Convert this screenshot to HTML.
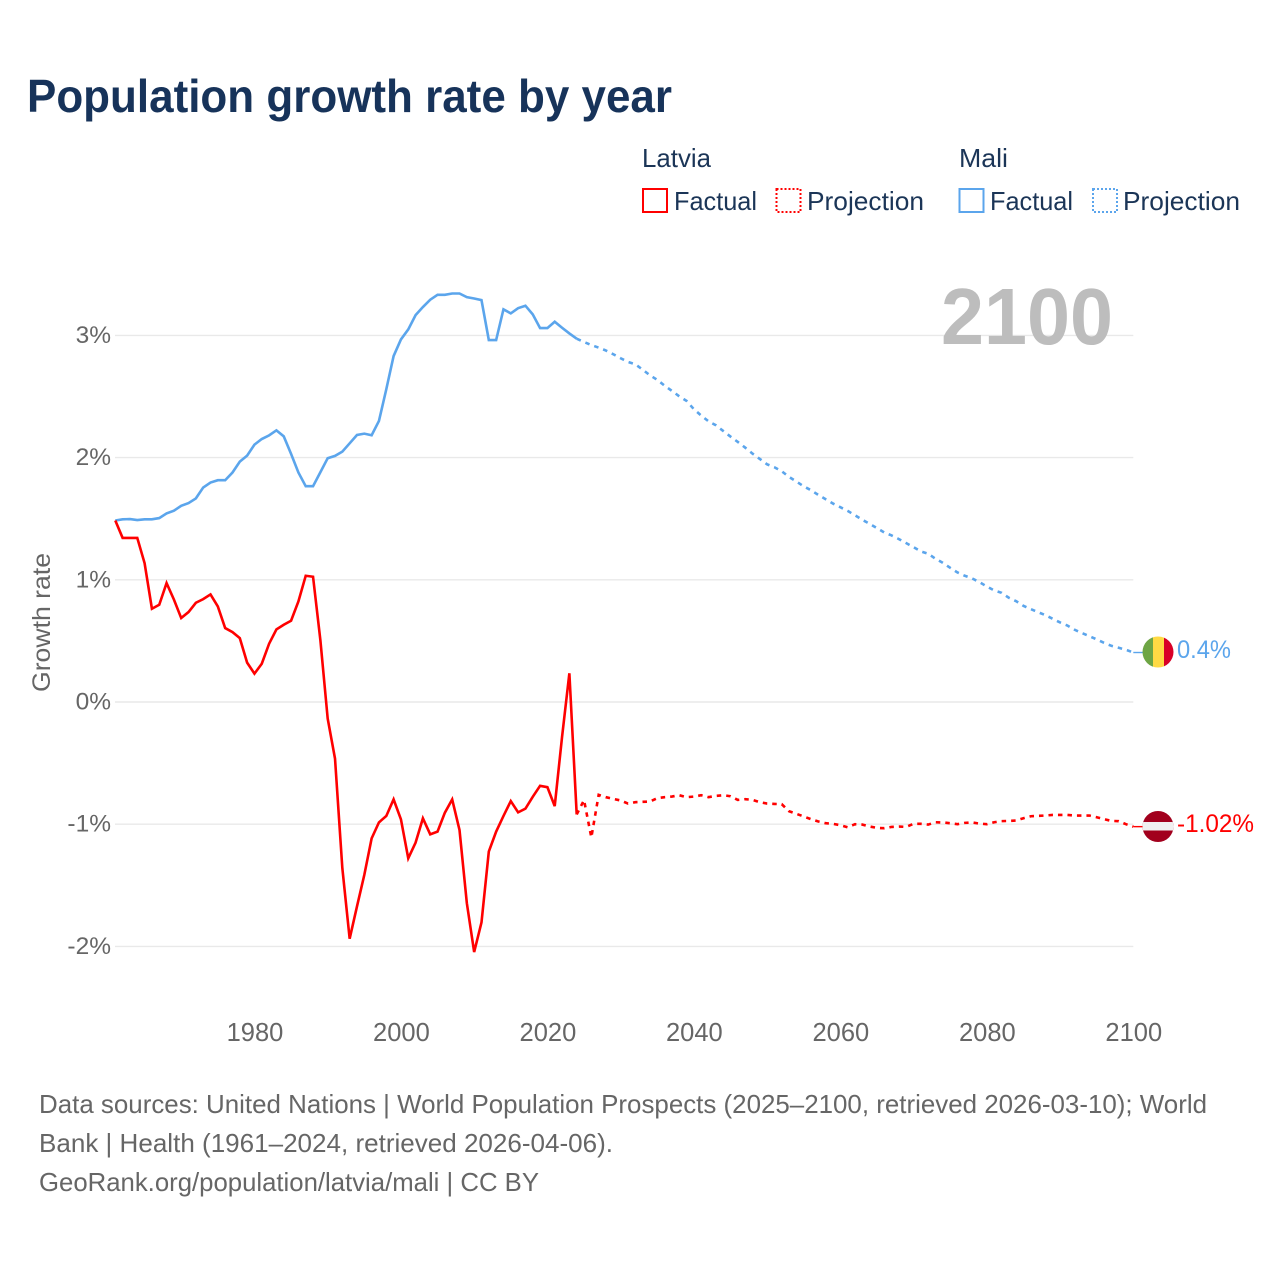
<!DOCTYPE html>
<html lang="en">
<head>
<meta charset="utf-8">
<title>Population growth rate by year</title>
<style>
html,body{margin:0;padding:0;background:#fff;width:1280px;height:1280px;overflow:hidden}
svg{display:block}
text{font-family:"Liberation Sans",Arial,sans-serif}
</style>
</head>
<body>
<svg id="chart" xmlns="http://www.w3.org/2000/svg" width="1280" height="1280" viewBox="0 0 1280 1280">
  <rect width="1280" height="1280" fill="#ffffff"/>
  <text x="27" y="112" font-size="46" font-weight="700" fill="#17335a" textLength="645" lengthAdjust="spacingAndGlyphs">Population growth rate by year</text>

  <g font-size="26" fill="#1b3557">
    <text x="642" y="167" textLength="69" lengthAdjust="spacingAndGlyphs">Latvia</text>
    <text x="959" y="167" textLength="49" lengthAdjust="spacingAndGlyphs">Mali</text>
    <rect x="643" y="189" width="24" height="23" fill="none" stroke="#ff0000" stroke-width="2"/>
    <text x="674" y="210" textLength="83" lengthAdjust="spacingAndGlyphs">Factual</text>
    <rect x="776.5" y="189" width="24" height="23" fill="none" stroke="#ff0000" stroke-width="2" stroke-dasharray="2 2"/>
    <text x="807" y="210" textLength="117" lengthAdjust="spacingAndGlyphs">Projection</text>
    <rect x="959.5" y="189" width="24" height="23" fill="none" stroke="#5ba5ec" stroke-width="2"/>
    <text x="990" y="210" textLength="83" lengthAdjust="spacingAndGlyphs">Factual</text>
    <rect x="1093" y="189" width="24" height="23" fill="none" stroke="#5ba5ec" stroke-width="2" stroke-dasharray="2 2"/>
    <text x="1123" y="210" textLength="117" lengthAdjust="spacingAndGlyphs">Projection</text>
  </g>

  <g id="grid"></g>
  <g id="yticks"></g>
  <g id="xticks"></g>
  <text transform="translate(50,692) rotate(-90)" font-size="25" fill="#666666" textLength="139" lengthAdjust="spacingAndGlyphs">Growth rate</text>
  <text id="year-label" x="941" y="344" font-size="80" font-weight="700" fill="#bdbdbd" textLength="172" lengthAdjust="spacingAndGlyphs">2100</text>

  <g id="series"></g>

  <defs>
    <clipPath id="clip-mali"><circle cx="1158" cy="652" r="15.5"/></clipPath>
    <clipPath id="clip-latvia"><circle cx="1158" cy="826.5" r="15.5"/></clipPath>
  </defs>
  <g clip-path="url(#clip-mali)">
    <rect x="1142" y="636" width="11" height="32" fill="#6da544"/>
    <rect x="1153" y="636" width="11" height="32" fill="#ffda44"/>
    <rect x="1164" y="636" width="10" height="32" fill="#d80027"/>
  </g>
  <g clip-path="url(#clip-latvia)">
    <rect x="1142" y="810" width="32" height="33" fill="#a2001d"/>
    <rect x="1142" y="822" width="32" height="8.5" fill="#f0f0f0"/>
  </g>
  <text id="end-label-mali" x="1177" y="658" font-size="25" fill="#5ba5ec" textLength="54" lengthAdjust="spacingAndGlyphs"></text>
  <text id="end-label-latvia" x="1177" y="832" font-size="25" fill="#ff0000" textLength="77" lengthAdjust="spacingAndGlyphs"></text>

  <g font-size="26" fill="#666666">
    <text x="39" y="1113" textLength="1168" lengthAdjust="spacingAndGlyphs">Data sources: United Nations | World Population Prospects (2025–2100, retrieved 2026-03-10); World</text>
    <text x="39" y="1152" textLength="574" lengthAdjust="spacingAndGlyphs">Bank | Health (1961–2024, retrieved 2026-04-06).</text>
    <text x="39" y="1191" textLength="500" lengthAdjust="spacingAndGlyphs">GeoRank.org/population/latvia/mali | CC BY</text>
  </g>
</svg>
<script>
const factualStartYear = 1961;
const projectionStartYear = 2024;
const lastYear = 2100;
const xTickYears = [1980, 2000, 2020, 2040, 2060, 2080, 2100];
const yTickValues = [3, 2, 1, 0, -1, -2];
const latviaFactual = [1.485,1.343,1.343,1.343,1.136,0.763,0.796,0.973,0.839,0.687,0.736,0.812,0.842,0.88,0.782,0.605,0.572,0.523,0.322,0.232,0.313,0.477,0.594,0.632,0.665,0.823,1.033,1.025,0.507,-0.136,-0.463,-1.36,-1.937,-1.673,-1.415,-1.116,-0.985,-0.933,-0.797,-0.96,-1.279,-1.151,-0.952,-1.083,-1.061,-0.906,-0.797,-1.048,-1.646,-2.046,-1.804,-1.224,-1.061,-0.933,-0.811,-0.903,-0.873,-0.776,-0.686,-0.697,-0.852,-0.286,0.235,-0.92];
const latviaProjection = [-0.92,-0.803,-1.108,-0.76,-0.779,-0.793,-0.806,-0.831,-0.82,-0.817,-0.815,-0.787,-0.779,-0.774,-0.763,-0.779,-0.774,-0.763,-0.779,-0.768,-0.763,-0.771,-0.801,-0.795,-0.801,-0.82,-0.831,-0.834,-0.836,-0.894,-0.915,-0.937,-0.959,-0.978,-0.992,-0.997,-1.008,-1.025,-1.0,-1.003,-1.019,-1.03,-1.033,-1.022,-1.019,-1.022,-0.997,-0.997,-1.003,-0.984,-0.986,-0.992,-1,-0.989,-0.986,-0.995,-1,-0.984,-0.975,-0.973,-0.97,-0.951,-0.935,-0.932,-0.929,-0.924,-0.924,-0.924,-0.929,-0.929,-0.929,-0.943,-0.959,-0.973,-0.975,-1,-1.02];
const maliFactual = [1.485,1.495,1.497,1.489,1.495,1.495,1.505,1.543,1.565,1.606,1.628,1.666,1.755,1.796,1.815,1.815,1.878,1.967,2.016,2.106,2.152,2.182,2.223,2.174,2.03,1.878,1.766,1.766,1.88,1.995,2.014,2.049,2.117,2.185,2.196,2.183,2.3,2.559,2.831,2.967,3.049,3.166,3.232,3.292,3.332,3.332,3.343,3.343,3.313,3.302,3.289,2.962,2.962,3.213,3.18,3.223,3.243,3.172,3.06,3.06,3.112,3.063,3.016,2.973];
const maliProjection = [2.973,2.946,2.921,2.9,2.876,2.846,2.813,2.783,2.764,2.72,2.674,2.636,2.589,2.546,2.502,2.464,2.396,2.344,2.297,2.265,2.218,2.172,2.128,2.082,2.033,1.989,1.945,1.921,1.888,1.842,1.804,1.765,1.733,1.694,1.659,1.624,1.594,1.564,1.528,1.491,1.458,1.423,1.387,1.363,1.333,1.3,1.267,1.232,1.213,1.172,1.139,1.098,1.06,1.033,1.011,0.981,0.945,0.913,0.894,0.853,0.825,0.787,0.76,0.735,0.711,0.681,0.651,0.626,0.591,0.564,0.539,0.512,0.484,0.46,0.444,0.427,0.405];
const endLabelMali = "0.4%";
const endLabelLatvia = "-1.02%";

const NS = "http://www.w3.org/2000/svg";
const RED = "#ff0000";
const BLUE = "#5ba5ec";
function xAxis(year) { return 115.3 + (year - factualStartYear) * (1133.3 - 115.3) / (lastYear - factualStartYear); }
function yAxis(value) { return 702 - value * 122.2; }
function pathFrom(values, startYear) {
  return values.map(function (v, i) {
    return (i ? "L" : "M") + xAxis(startYear + i).toFixed(2) + " " + yAxis(v).toFixed(2);
  }).join("");
}
function make(tag, attrs, parent) {
  const el = document.createElementNS(NS, tag);
  Object.keys(attrs).forEach(function (k) { el.setAttribute(k, attrs[k]); });
  parent.appendChild(el);
  return el;
}

const grid = document.getElementById("grid");
const yticks = document.getElementById("yticks");
const xticks = document.getElementById("xticks");
const series = document.getElementById("series");

yTickValues.forEach(function (v) {
  const line = make("line", { x1: xAxis(factualStartYear) - 0.3, x2: xAxis(lastYear), y1: yAxis(v), y2: yAxis(v), stroke: "#e9e9e9", "stroke-width": 1.4 }, grid);
  
  
  const label = make("text", { x: 111, y: yAxis(v) + 7.5, "text-anchor": "end", "font-size": 24.5, fill: "#666666" }, yticks);
  
  
  label.textContent = v + "%";
});
xTickYears.forEach(function (year) {
  const label = make("text", { x: xAxis(year) + 0.5, y: 1041, "text-anchor": "middle", "font-size": 25.5, fill: "#666666" }, xticks);
  
  
  label.textContent = year;
});

const lineStyle = { fill: "none", "stroke-width": 2.6, "stroke-linejoin": "miter" };
function addLine(d, color, dashed) {
  const attrs = Object.assign({ d: d, stroke: color }, lineStyle);
  if (dashed) attrs["stroke-dasharray"] = "4.5 5";
  return make("path", attrs, series);
}
const maliFactualLine = addLine(pathFrom(maliFactual, factualStartYear), BLUE, false);


const maliProjectionLine = addLine(pathFrom(maliProjection, projectionStartYear), BLUE, true);


const latviaFactualLine = addLine(pathFrom(latviaFactual, factualStartYear), RED, false);


const latviaProjectionLine = addLine(pathFrom(latviaProjection, projectionStartYear), RED, true);



const maliEnd = maliProjection[maliProjection.length - 1];
const latviaEnd = latviaProjection[latviaProjection.length - 1];
const maliLeader = make("line", { x1: xAxis(lastYear), x2: 1144, y1: yAxis(maliEnd), y2: yAxis(maliEnd), stroke: BLUE, "stroke-width": 1.4 }, series);


const latviaLeader = make("line", { x1: xAxis(lastYear), x2: 1144, y1: yAxis(latviaEnd), y2: yAxis(latviaEnd), stroke: RED, "stroke-width": 1.4 }, series);



document.getElementById("end-label-mali").textContent = endLabelMali;
document.getElementById("end-label-latvia").textContent = endLabelLatvia;
</script>
</body>
</html>
